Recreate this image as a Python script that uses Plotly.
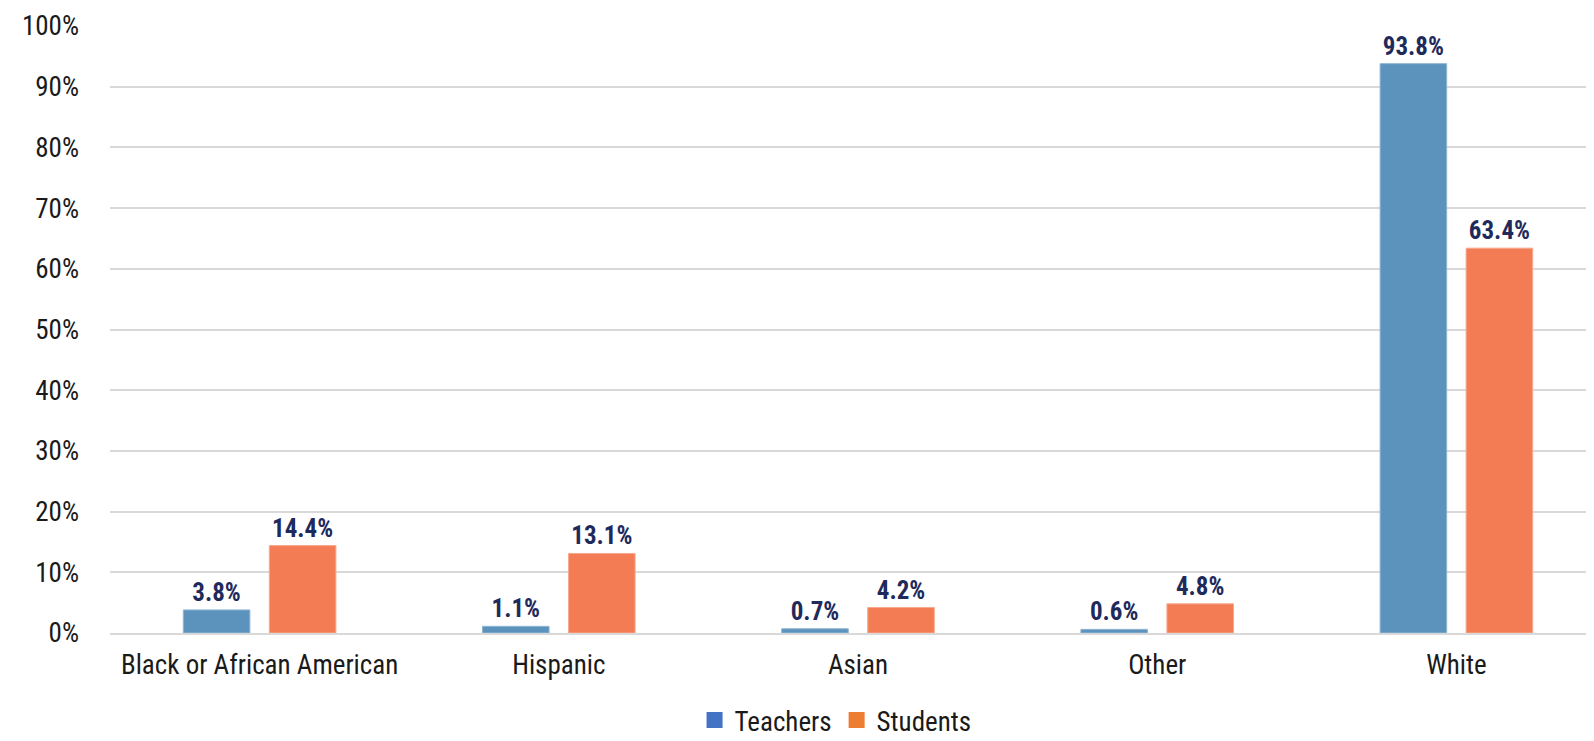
import plotly.graph_objects as go

categories = ["Black or African American", "Hispanic", "Asian", "Other", "White"]
teachers = [3.8, 1.1, 0.7, 0.6, 93.8]
students = [14.4, 13.1, 4.2, 4.8, 63.4]
y_ticks = [0, 10, 20, 30, 40, 50, 60, 70, 80, 90, 100]

FONT = "Roboto Condensed, Liberation Sans Narrow, DejaVu Sans Condensed, Roboto, sans-serif"
label_font = dict(family=FONT, size=25, color="#1f2a5c")
tick_font = dict(family=FONT, size=27, color="#1a1a1a")

fig = go.Figure()
fig.add_trace(go.Bar(
    x=categories, y=teachers, name="Teachers", showlegend=False,
    marker=dict(color="#5b93bd", line=dict(color="#8fb5d3", width=1)),
    text=[f"<b>{v:.1f}%</b>" for v in teachers], textposition="outside",
    textfont=label_font, cliponaxis=False, constraintext="none",
))
fig.add_trace(go.Bar(
    x=categories, y=students, name="Students", showlegend=False,
    marker=dict(color="#f47c55", line=dict(color="#f8a88c", width=1)),
    text=[f"<b>{v:.1f}%</b>" for v in students], textposition="outside",
    textfont=label_font, cliponaxis=False, constraintext="none",
))
# legend swatches use the darker theme colours, as in the source
fig.add_trace(go.Scatter(x=[None], y=[None], name="Teachers", mode="markers", xaxis="x2",
                         marker=dict(symbol="square", size=16, color="#4472c4")))
fig.add_trace(go.Scatter(x=[None], y=[None], name="Students", mode="markers", xaxis="x2",
                         marker=dict(symbol="square", size=16, color="#ed7d31")))

fig.update_layout(
    width=1615, height=746,
    margin=dict(l=102, r=17, t=18, b=121),
    paper_bgcolor="white", plot_bgcolor="white",
    barmode="group", bargap=0.425, bargroupgap=0.226,
    font=dict(family=FONT, size=26, color="#1a1a1a"),
    showlegend=True,
    legend=dict(orientation="h", x=0.485, xanchor="center", y=0.045, yanchor="middle",
                yref="container",
                font=dict(family=FONT, size=27, color="#1a1a1a"),
                traceorder="normal", itemwidth=30, tracegroupgap=0),
    xaxis=dict(showgrid=False, showline=True, linecolor="#d9d9d9", linewidth=2,
               ticks="", ticklabelstandoff=7, tickfont=tick_font, automargin=False),
    xaxis2=dict(overlaying="x", visible=False),
    yaxis=dict(range=[0, 100], tickvals=y_ticks, ticktext=[f"{v}%" for v in y_ticks],
               showgrid=True, gridcolor="#d9d9d9", gridwidth=1.5, zeroline=False,
               ticks="", ticklabelstandoff=30, ticklabeloverflow="allow",
               tickfont=tick_font, automargin=False),
)

fig.write_html("out.html")
